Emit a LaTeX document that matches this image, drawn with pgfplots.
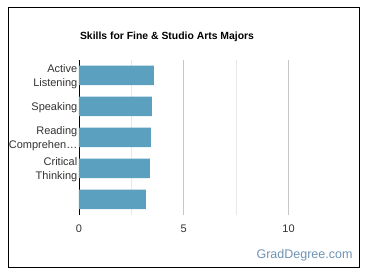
\documentclass[border=0pt]{standalone}
\usepackage{pgfplots}
\pgfplotsset{compat=1.18}
\usepackage{fontspec}
\setmainfont{Liberation Sans}
\definecolor{barc}{RGB}{91,160,190}
\definecolor{txt}{RGB}{51,51,51}
\definecolor{brand}{RGB}{111,147,179}
\begin{document}
\begin{tikzpicture}[x=1pt,y=1pt]
\useasboundingbox[fill=white] (0,0) rectangle (370,278);
\draw[black,line width=1pt] (8.5,10.5) rectangle (359,270);
\node[font=\bfseries\fontsize{10.4}{12}\selectfont, text=black] at (167,241) {Skills for Fine \& Studio Arts Majors};
\node[font=\fontsize{12.5}{14}\selectfont, text=brand, anchor=east] at (356,23) {GradDegree.com};
\begin{axis}[
  at={(79pt,63pt)}, anchor=south west, scale only axis,
  width=262pt, height=155pt,
  xbar, bar width=19.5pt,
  xmin=0, xmax=12.5, ymin=-0.5, ymax=4.5, y dir=reverse,
  ytick={0,1,2,3,4},
  yticklabels={{Active\\Listening},{Speaking},{Reading\\Comprehen…},{Critical\\Thinking},{}},
  yticklabel style={align=right, font=\fontsize{11}{14}\selectfont, text=txt, inner sep=1.5pt, yshift=-1.5pt},
  xtick={0,5,10}, minor xtick={2.5,7.5},
  xticklabel style={font=\fontsize{11}{13}\selectfont, text=txt, yshift=-6pt},
  /pgf/number format/assume math mode=true,
  major tick length=0pt, minor tick length=0pt,
  xmajorgrids, xminorgrids,
  major grid style={draw=black!22, line width=0.8pt},
  minor grid style={draw=black!9, line width=0.8pt},
  axis lines=left,
  x axis line style={draw=none},
  y axis line style={draw=black, line width=0.9pt, -},
  clip=false,
]
\addplot[fill=barc, draw=none] coordinates {(3.57,0) (3.48,1) (3.43,2) (3.38,3) (3.19,4)};
\end{axis}
\end{tikzpicture}
\end{document}
